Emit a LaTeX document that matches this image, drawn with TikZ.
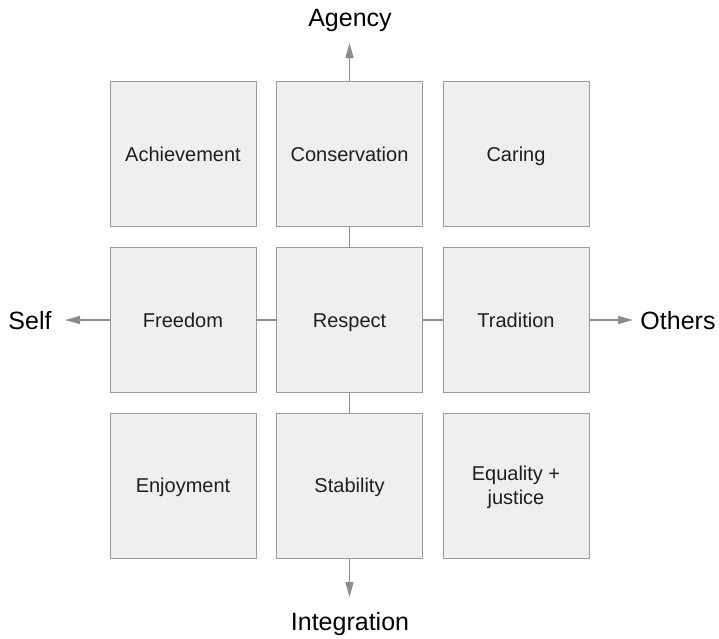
\documentclass[tikz,border=0pt]{standalone}
\usepackage{fontspec}
\setmainfont{Liberation Sans}
\usetikzlibrary{positioning,arrows.meta}
\definecolor{boxfill}{HTML}{EFEFEF}
\definecolor{boxline}{HTML}{9A9A9A}
\definecolor{axisline}{HTML}{8C8C8C}
\definecolor{ink}{HTML}{1E1E1E}

\begin{document}
\begin{tikzpicture}
[x=1pt,y=-1pt,
 value/.style={rectangle,draw=boxline,fill=boxfill,line width=1pt,minimum width=146pt,minimum height=145pt,
   inner sep=0pt,outer sep=0pt,align=center,text=ink,text height=16pt,text depth=2pt,
   font=\fontsize{20}{24}\selectfont},
 pole/.style={inner sep=0pt,text=black,font=\fontsize{25}{30}\selectfont},
 link/.style={axisline,line width=1.2pt},
 axis/.style={link,-{Triangle[length=15pt,width=8pt]}}]
\useasboundingbox (0,0) rectangle (719,638);

% middle first, the rest on the grid around it
\node[value] (res) at (349.5,320)                  {Respect};
\node[value] (con) [on grid,above=166pt of res]    {Conservation};
\node[value] (sta) [on grid,below=165.5pt of res]  {Stability};
\node[value] (fre) [on grid,left=166.5pt of res]   {Freedom};
\node[value] (tra) [on grid,right=166.5pt of res]  {Tradition};
\node[value] (ach) [on grid,left=166.5pt of con]   {Achievement};
\node[value] (car) [on grid,right=166.5pt of con]  {Caring};
\node[value] (enj) [on grid,left=166.5pt of sta]   {Enjoyment};
\node[value,text height=40pt] (equ) [on grid,right=166.5pt of sta] {Equality +\\justice};

\path[link] (fre) edge (res);
\path[link] (res) edge (tra);
\path[link] (con) edge (res);
\path[link] (res) edge (sta);

\node[pole,anchor=base] (agency) at (350,26)    {Agency};
\node[pole,anchor=base] (integ)  at (350,630.5) {Integration};
\node[pole,anchor=base] (self)   at (30,329)    {Self};
\node[pole,anchor=base] (others) at (678,329)   {Others};

\coordinate (agencyTip) at (349.5,43);
\coordinate (integTip)  at (349.5,597);
\coordinate (selfTip)   at (65,320);
\coordinate (othersTip) at (633,320);

\draw[axis] (con.north) -- (agencyTip);
\draw[axis] (sta.south) -- (integTip);
\draw[axis] (fre.west)  -- (selfTip);
\draw[axis] (tra.east)  -- (othersTip);
\end{tikzpicture}
\end{document}
